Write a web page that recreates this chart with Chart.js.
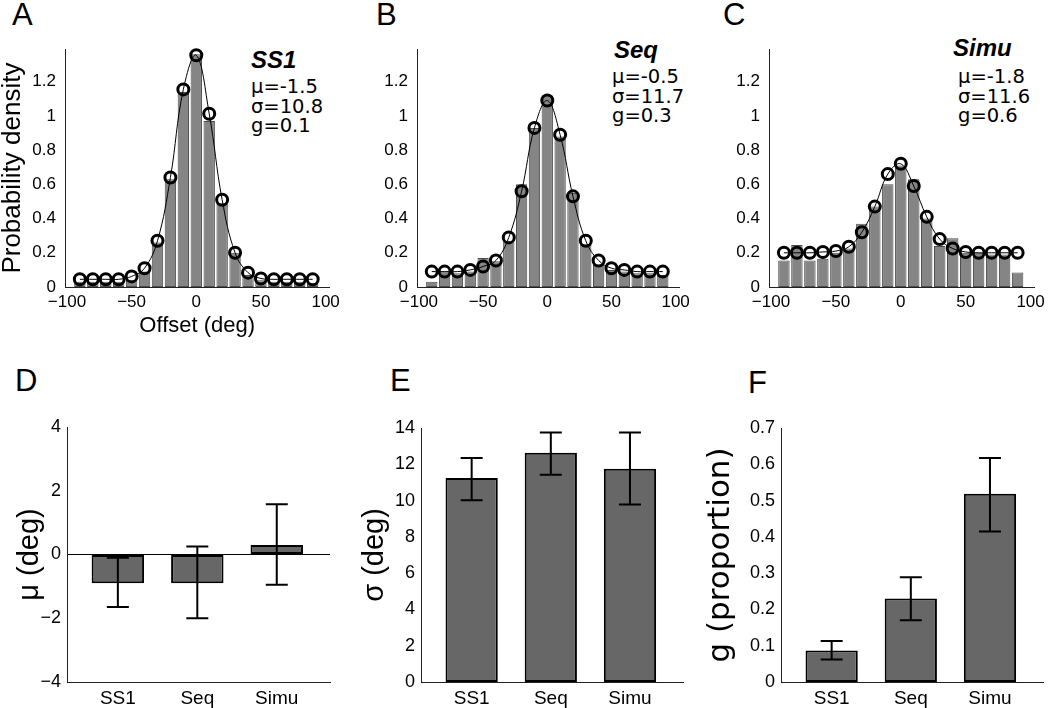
<!DOCTYPE html>
<html lang="en">
<head>
  <meta charset="UTF-8">
  <title>Offset distributions and fitted parameters</title>
  <script src="https://cdn.jsdelivr.net/npm/chart.js"></script>
  <style>
    body { margin: 0; background: #fff; width: 1050px; height: 708px; position: relative; overflow: hidden; font-family: "Liberation Sans", Arial, sans-serif; }
    canvas { position: absolute; }
    .letter { position: absolute; font-size: 31px; line-height: 1; color: #000; }
    .name { position: absolute; font-family: "Liberation Sans", Arial, sans-serif; font-weight: bold; font-style: italic; font-size: 24px; line-height: 1; }
    .params { position: absolute; font-family: "DejaVu Sans", sans-serif; font-size: 19.5px; line-height: 19.5px; }
  </style>
</head>
<body>
  <div class="letter" style="left:12px; top:-1px;">A</div>
  <div class="letter" style="left:376px; top:-1px;">B</div>
  <div class="letter" style="left:723px; top:-1px;">C</div>
  <div class="letter" style="left:15px; top:365px;">D</div>
  <div class="letter" style="left:390px; top:365px;">E</div>
  <div class="letter" style="left:748px; top:367px;">F</div>

  <div class="name" style="left:251px; top:48px;">SS1</div>
  <div class="params" style="left:251px; top:77px;">μ=-1.5<br>σ=10.8<br>g=0.1</div>
  <div class="name" style="left:614px; top:38px;">Seq</div>
  <div class="params" style="left:612px; top:67px;">μ=-0.5<br>σ=11.7<br>g=0.3</div>
  <div class="name" style="left:953px; top:36px;">Simu</div>
  <div class="params" style="left:958px; top:67px;">μ=-1.8<br>σ=11.6<br>g=0.6</div>

  <canvas id="histA" width="345" height="310" style="left:0; top:30px;"></canvas>
  <canvas id="histB" width="345" height="310" style="left:350px; top:30px;"></canvas>
  <canvas id="histC" width="350" height="310" style="left:700px; top:30px;"></canvas>
  <canvas id="muChart" width="345" height="308" style="left:0; top:400px;"></canvas>
  <canvas id="sigmaChart" width="345" height="308" style="left:350px; top:400px;"></canvas>
  <canvas id="gChart" width="350" height="308" style="left:700px; top:400px;"></canvas>

  <script>
    // bin centres of the offset histograms (deg)
    const binCenters = [-90, -80, -70, -60, -50, -40, -30, -20, -10, 0, 10, 20, 30, 40, 50, 60, 70, 80, 90];

    // observed densities (bars) and model fit (circles)
    const barsSS1 = [0.03, 0.03, 0.03, 0.03, 0.04, 0.09, 0.26, 0.63, 1.14, 1.36, 0.97, 0.49, 0.2, 0.07, 0.04, 0.03, 0.03, 0.03, 0.02];
    const fitSS1  = [0.045, 0.045, 0.045, 0.045, 0.062, 0.11, 0.27, 0.64, 1.155, 1.355, 1.013, 0.51, 0.2, 0.084, 0.05, 0.045, 0.045, 0.045, 0.045];
    const barsSeq = [0.03, 0.09, 0.08, 0.09, 0.17, 0.15, 0.27, 0.6, 0.93, 1.12, 0.88, 0.55, 0.25, 0.13, 0.1, 0.09, 0.08, 0.08, 0.07];
    const fitSeq  = [0.09, 0.09, 0.09, 0.1, 0.12, 0.155, 0.29, 0.56, 0.93, 1.09, 0.89, 0.53, 0.27, 0.155, 0.11, 0.1, 0.09, 0.09, 0.09];
    const barsSimu = [0.155, 0.245, 0.155, 0.165, 0.2, 0.225, 0.37, 0.47, 0.6, 0.71, 0.63, 0.4, 0.24, 0.285, 0.2, 0.2, 0.19, 0.19, 0.085];
    const fitSimu  = [0.2, 0.2, 0.2, 0.205, 0.21, 0.235, 0.32, 0.47, 0.66, 0.72, 0.59, 0.41, 0.28, 0.225, 0.205, 0.2, 0.2, 0.2, 0.2];

    const offsetTicks = [-100, -50, 0, 50, 100];
    const densityTicks = [0, 0.2, 0.4, 0.6, 0.8, 1, 1.2];

    // group summaries: mean and error-bar limits
    const groups = ['SS1', 'Seq', 'Simu'];
    const muMean = [-0.9, -0.9, 0.3];
    const muLow  = [-1.65, -2.0, -0.95];
    const muHigh = [-0.1, 0.25, 1.58];
    const sigmaMean = [11.25, 12.63, 11.76];
    const sigmaLow  = [10.02, 11.42, 9.78];
    const sigmaHigh = [12.35, 13.75, 13.75];
    const gMean = [0.087, 0.23, 0.519];
    const gLow  = [0.062, 0.17, 0.415];
    const gHigh = [0.113, 0.289, 0.617];

    const muTicks = [-4, -2, 0, 2, 4];
    const sigmaTicks = [0, 2, 4, 6, 8, 10, 12, 14];
    const gTicks = [0, 0.1, 0.2, 0.3, 0.4, 0.5, 0.6, 0.7];

    Chart.defaults.font.family = '"Liberation Sans", Arial, sans-serif';
    Chart.defaults.color = '#000';

    const fmt = v => {
      const s = String(Math.round(v * 10) / 10);
      return v < 0 ? '\u2212' + s.slice(1) : s;
    };

    const errorBars = {
      id: 'errorBars',
      afterDatasetsDraw(chart, args, opts) {
        const { ctx, scales: { x, y } } = chart;
        ctx.save();
        ctx.strokeStyle = '#000';
        ctx.lineWidth = 2;
        opts.low.forEach((lo, i) => {
          const px = x.getPixelForValue(i + 1);
          const y1 = y.getPixelForValue(lo);
          const y2 = y.getPixelForValue(opts.high[i]);
          ctx.beginPath();
          ctx.moveTo(px, y1); ctx.lineTo(px, y2);
          ctx.moveTo(px - 11, y1); ctx.lineTo(px + 11, y1);
          ctx.moveTo(px - 11, y2); ctx.lineTo(px + 11, y2);
          ctx.stroke();
        });
        ctx.restore();
      }
    };

    function makeHist(id, bars, fit, yWidth, padRight, withTitles) {
      new Chart(document.getElementById(id), {
        type: 'bar',
        data: {
          datasets: [{
            type: 'line',
            data: binCenters.map((c, i) => ({ x: c, y: fit[i] })),
            borderColor: '#000',
            borderWidth: 1,
            tension: 0.4,
            pointRadius: 5.5,
            pointBorderWidth: 3,
            pointBorderColor: '#000',
            pointBackgroundColor: 'rgba(0,0,0,0)',
            clip: false,
            order: 1
          }, {
            type: 'bar',
            data: binCenters.map((c, i) => ({ x: c, y: bars[i] })),
            backgroundColor: '#858585',
            borderColor: '#4d4d4d',
            borderWidth: 1,
            borderSkipped: false,
            barPercentage: 0.88,
            categoryPercentage: 1,
            order: 2
          }]
        },
        options: {
          responsive: false,
          animation: false,
          layout: { padding: { top: 8, right: padRight, left: 0, bottom: 0 } },
          plugins: { legend: { display: false }, tooltip: { enabled: false } },
          scales: {
            x: {
              type: 'linear',
              min: -101.5,
              max: 103,
              offset: false,
              grid: { display: false, drawTicks: false },
              border: { display: true, color: '#222', width: 1 },
              afterBuildTicks: s => { s.ticks = offsetTicks.map(v => ({ value: v })); },
              afterFit: s => { s.height = 53; },
              ticks: { font: { size: 17 }, padding: 5, maxRotation: 0, autoSkip: false, callback: v => fmt(v) },
              title: { display: withTitles, text: 'Offset (deg)', font: { size: 22, lineHeight: 1 }, padding: { top: 0, bottom: 3 } }
            },
            y: {
              min: 0,
              max: 1.39,
              grid: { display: false, drawTicks: false },
              border: { display: true, color: '#222', width: 1 },
              afterBuildTicks: s => { s.ticks = densityTicks.map(v => ({ value: v })); },
              afterFit: s => { s.width = yWidth; },
              ticks: { font: { size: 17 }, padding: 9, callback: v => fmt(v) },
              title: { display: withTitles, text: 'Probability density', font: { size: 26, lineHeight: 1 }, padding: { top: 0, bottom: 0 } }
            }
          }
        }
      });
    }

    function makeSummary(id, means, low, high, yMin, yMax, yTicks, yTitle, titleFont, titlePad, yWidth, padTop, padRight, zeroLine) {
      new Chart(document.getElementById(id), {
        type: 'bar',
        data: {
          datasets: [{
            data: groups.map((g, i) => ({ x: i + 1, y: means[i] })),
            backgroundColor: '#676767',
            borderColor: '#000',
            borderWidth: 2,
            borderSkipped: false,
            barPercentage: 0.66,
            categoryPercentage: 1
          }]
        },
        options: {
          responsive: false,
          animation: false,
          layout: { padding: { top: padTop, right: padRight, left: 0, bottom: 0 } },
          plugins: {
            legend: { display: false },
            tooltip: { enabled: false },
            errorBars: { low: low, high: high }
          },
          scales: {
            x: {
              type: 'linear',
              min: 0.36,
              max: 3.67,
              offset: false,
              grid: { display: false, drawTicks: false },
              border: { display: true, color: '#222', width: 1 },
              afterBuildTicks: s => { s.ticks = groups.map((g, i) => ({ value: i + 1 })); },
              afterFit: s => { s.height = 26; },
              ticks: { font: { size: 19 }, padding: 5, maxRotation: 0, autoSkip: false, callback: v => groups[v - 1] }
            },
            y: {
              min: yMin,
              max: yMax,
              grid: {
                display: zeroLine,
                drawTicks: false,
                color: c => (c.tick && c.tick.value === 0 ? '#000' : 'rgba(0,0,0,0)'),
                lineWidth: 1
              },
              border: { display: true, color: '#222', width: 1 },
              afterBuildTicks: s => { s.ticks = yTicks.map(v => ({ value: v })); },
              afterFit: s => { s.width = yWidth; },
              ticks: { font: { size: 18 }, padding: 6, callback: v => fmt(v) },
              title: { display: true, text: yTitle, font: titleFont, padding: { top: titlePad, bottom: 0 } }
            }
          }
        },
        plugins: [errorBars]
      });
    }

    makeHist('histA', barsSS1, fitSS1, 65, 14, true);
    makeHist('histB', barsSeq, fitSeq, 67, 12, false);
    makeHist('histC', barsSimu, fitSimu, 69, 15, false);

    makeSummary('muChart', muMean, muLow, muHigh, -4, 4, muTicks, 'μ (deg)',
      { size: 29, lineHeight: 1 }, 15.5, 67, 27, 15, true);
    makeSummary('sigmaChart', sigmaMean, sigmaLow, sigmaHigh, 0, 14, sigmaTicks, 'σ (deg)',
      { size: 29, lineHeight: 1 }, 10.5, 71, 28, 12, false);
    makeSummary('gChart', gMean, gLow, gHigh, 0, 0.7, gTicks, 'g (proportion)',
      { size: 31, lineHeight: 1, family: '"DejaVu Sans", sans-serif' }, 5.5, 81, 28, 7, false);
  </script>
</body>
</html>
